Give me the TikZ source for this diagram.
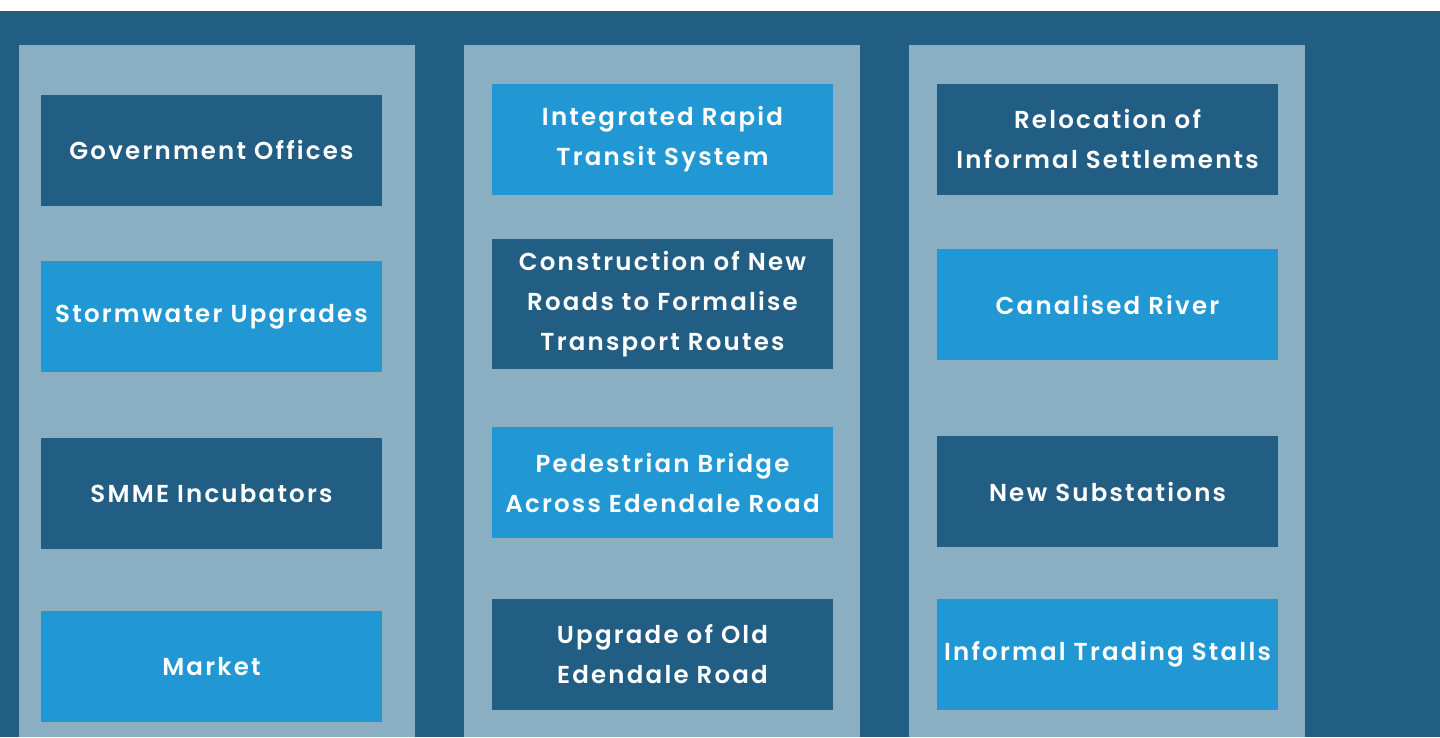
\documentclass[tikz,border=0pt]{standalone}
\usepackage{fontspec}
\newfontfamily\labfont{Poppins SemiBold}[LetterSpace=9]
\definecolor{darkblue}{HTML}{225E84}
\definecolor{brightblue}{HTML}{2197D4}
\definecolor{panelgray}{HTML}{8BAFC2}
\tikzset{
  panelbox/.style={fill=panelgray, draw=none, minimum width=396pt, minimum height=692pt, inner sep=0pt, anchor=north west},
  itembox/.style={draw=none, minimum width=341pt, minimum height=111pt, inner sep=0pt, align=center, text=white, font=\labfont\fontsize{24.5}{40}\selectfont},
  dk/.style={itembox, fill=darkblue},
  br/.style={itembox, fill=brightblue}
}
\begin{document}
\begin{tikzpicture}[x=1pt,y=-1pt]
\useasboundingbox (0,0) rectangle (1440,737);
\fill[white] (0,0) rectangle (1440,11);
\fill[darkblue] (0,11) rectangle (1440,737);
\node[panelbox] (p1) at (19,45) {};
\node[panelbox] (p2) at (464,45) {};
\node[panelbox] (p3) at (909,45) {};
% column 1
\node[dk] (a1) at (211.5,150.5) {Government Offices};
\node[br] (a2) at (211.5,316.5) {Stormwater Upgrades};
\node[dk] (a3) at (211.5,493.5) {SMME Incubators};
\node[br] (a4) at (211.5,666.5) {Market};
% column 2
\node[br] (b1) at (662.5,139.5) {Integrated Rapid\\Transit System};
\node[dk, minimum height=130pt] (b2) at (662.5,304) {Construction of New\\Roads to Formalise\\Transport Routes};
\node[br] (b3) at (662.5,482.5) {Pedestrian Bridge\\Across Edendale Road};
\node[dk] (b4) at (662.5,654.5) {Upgrade of Old\\Edendale Road};
% column 3
\node[dk] (c1) at (1107.5,139.5) {Relocation of\\Informal Settlements};
\node[br] (c2) at (1107.5,304.5) {Canalised River};
\node[dk] (c3) at (1107.5,491.5) {New Substations};
\node[br] (c4) at (1107.5,654.5) {Informal Trading Stalls};
\end{tikzpicture}
\end{document}
